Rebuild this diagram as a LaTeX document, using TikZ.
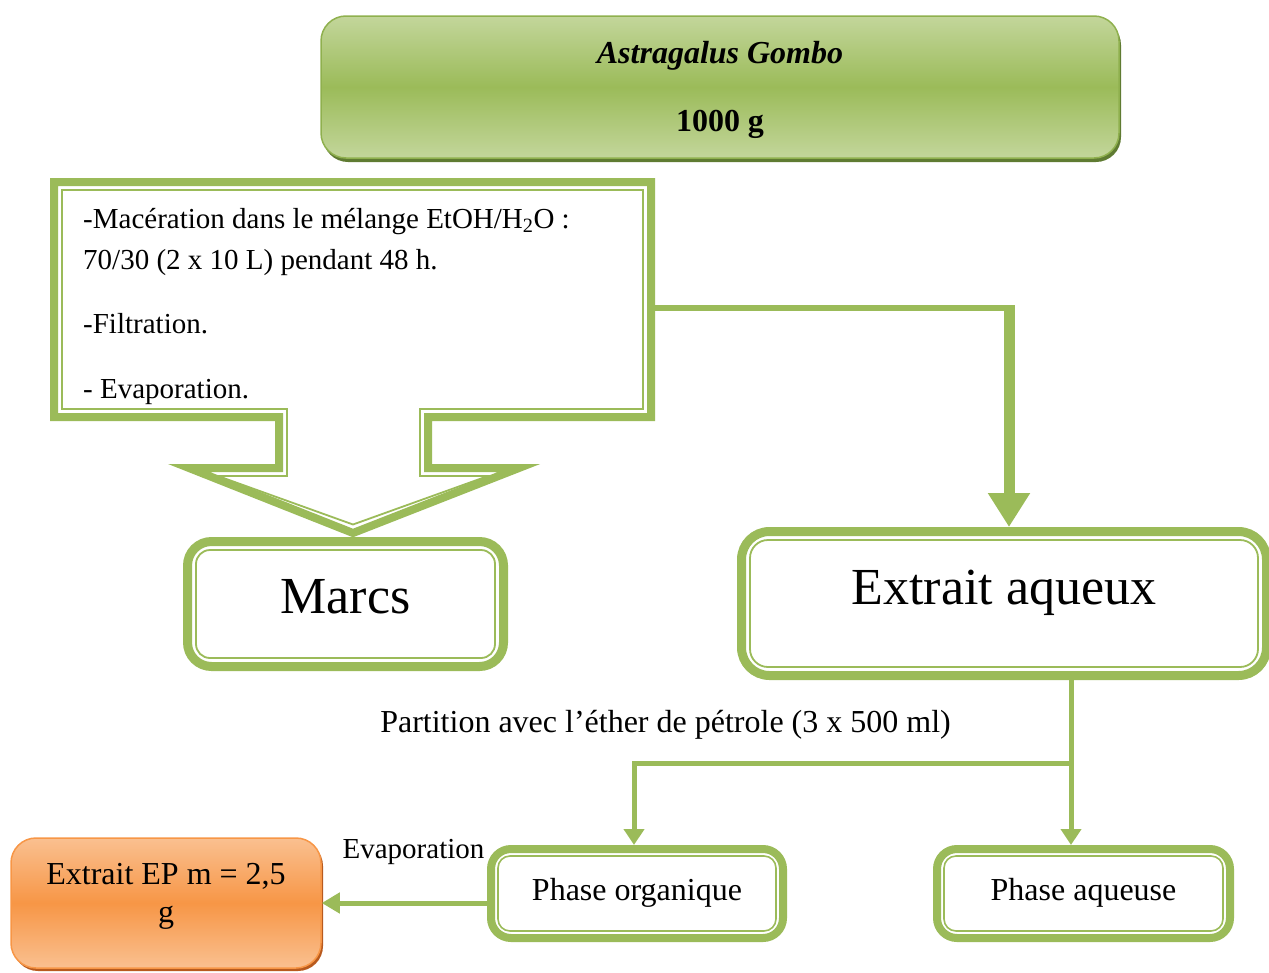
\documentclass[tikz,border=0pt]{standalone}
\usepackage{fontspec}
\setmainfont{Liberation Serif}
\usetikzlibrary{arrows.meta,shadows}
\definecolor{G}{HTML}{9BBB59}
\definecolor{GL}{HTML}{C3D69B}
\definecolor{GB}{HTML}{8FB04E}
\definecolor{GD}{HTML}{5F7B32}
\definecolor{OR}{HTML}{F79646}
\definecolor{OL}{HTML}{FAC090}
\definecolor{OD}{HTML}{B85A1E}
\newcommand\myinner[4]{\draw[G, line width=#4, rounded corners=#3] ([shift={(#2,-#2)}]#1.north west) rectangle ([shift={(-#2,#2)}]#1.south east);}
\begin{document}
\begin{tikzpicture}[x=1pt,y=-1pt,
  f32/.style={font=\fontsize{32}{38}\selectfont},
  f29/.style={font=\fontsize{29}{35}\selectfont},
  f52/.style={font=\fontsize{52}{60}\selectfont},
  dbox/.style={draw=G, fill=white, inner sep=0pt},
  conn/.style={G, line width=5pt},
  tip/.style={-{Triangle[width=20pt,length=16pt]}},
  txt/.style={inner sep=0pt, anchor=base west, f29}]
\useasboundingbox (0,0) rectangle (1269,972);
\clip (0,0) rectangle (1269,972);

% top box
\node[draw=GB, line width=1.5pt, rounded corners=25pt, top color=GL, bottom color=GL, middle color=G,
  drop shadow={fill=GD, opacity=1, shadow xshift=2pt, shadow yshift=-4pt},
  minimum width=798, minimum height=142, inner sep=0pt, align=center, f32,
  text height=95pt, text depth=7pt] (top) at (720,87)
  {\textbf{\textit{Astragalus Gombo}}\\[30pt]\textbf{1000 g}};

% callout (down arrow)
\draw[G, line width=8pt, line join=miter] (54,182) -- (651,182) -- (651,417) -- (428,417) -- (428,468)
  -- (519,468) -- (353,533) -- (189,468) -- (279,468) -- (279,417) -- (54,417) -- cycle;
\draw[G, line width=1.8pt] (62,190) -- (643,190) -- (643,409) -- (420,409) -- (420,476)
  -- (488,476) -- (353,524.5) -- (218,476) -- (287,476) -- (287,409) -- (62,409) -- cycle;
\node[txt] (l1) at (83,228) {-Macération dans le mélange EtOH/H\textsubscript{2}O :};
\node[txt] (l2) at (83,269) {70/30 (2 x 10 L) pendant 48 h.};
\node[txt] (l3) at (83,333) {-Filtration.};
\node[txt] (l4) at (83,398) {- Evaporation.};
\coordinate (cE) at (651,308);
\coordinate (bend) at (1009,308);

% Marcs
\node[dbox, line width=9pt, rounded corners=24pt, minimum width=316, minimum height=125, f52,
  text height=36pt, text depth=18pt] (marcs) at (345.5,604) {Marcs};
\myinner{marcs}{13pt}{14pt}{1.8pt}

% Extrait aqueux
\node[dbox, line width=9pt, rounded corners=28pt, minimum width=525, minimum height=144, f52,
  text height=36pt, text depth=35pt] (extr) at (1004,603.5) {Extrait aqueux};
\myinner{extr}{13pt}{18pt}{1.8pt}

% phases
\node[dbox, line width=8pt, rounded corners=20pt, minimum width=292, minimum height=89, f32,
  text height=22pt, text depth=9pt] (porg) at (637,893.5) {Phase organique};
\myinner{porg}{11pt}{12pt}{1.6pt}
\node[dbox, line width=8pt, rounded corners=20pt, minimum width=293, minimum height=89, f32,
  text height=22pt, text depth=9pt] (paq) at (1083.5,893.5) {Phase aqueuse};
\myinner{paq}{11pt}{12pt}{1.6pt}

% orange result
\node[draw=OR, line width=1.5pt, rounded corners=25pt, top color=OL, bottom color=OL, middle color=OR,
  drop shadow={fill=OD, opacity=1, shadow xshift=2pt, shadow yshift=-3pt},
  minimum width=310, minimum height=130, inner sep=0pt, align=center, f32,
  text height=45pt, text depth=7pt] (ep) at (166,903) {Extrait EP m = 2,5\\g};

% labels
\node[f32, inner sep=0pt, anchor=base] (part) at (665.5,732) {Partition avec l’éther de pétrole (3 x 500 ml)};
\node[f29, inner sep=0pt, anchor=base] (evap) at (413.5,858) {Evaporation};

% connectors
\draw[G, line width=6pt] (cE) -- ([xshift=3pt]bend);
\draw[G, line width=11pt, -{Triangle[width=40pt,length=34pt]}] ([yshift=3pt]bend) -- (bend |- extr.north);
\coordinate (split) at (1071,763);
\draw[conn] (split |- extr.south) -- (split);
\draw[conn, tip] ([xshift=2.5pt]split) -| ([xshift=-3pt]porg.north);
\draw[conn, tip] (split) -- (split |- paq.north);
\draw[conn, -{Triangle[width=20pt,length=18pt]}] (porg.west |- ep.east) -- (ep.east);
\end{tikzpicture}
\end{document}
